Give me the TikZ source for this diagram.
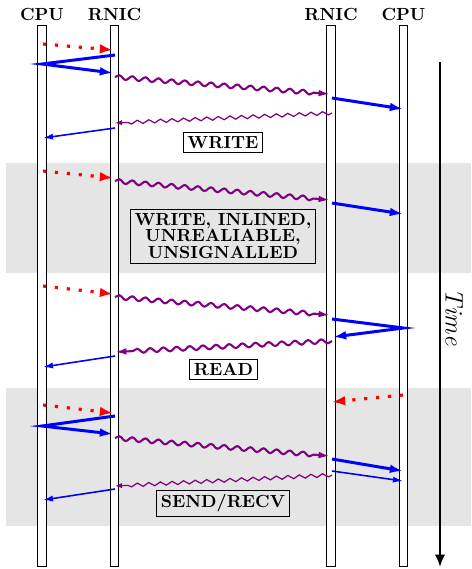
\documentclass[tikz,border=0pt]{standalone}
\usetikzlibrary{arrows.meta,decorations.pathmorphing}
\definecolor{wirepurple}{RGB}{128,0,128}
\begin{document}
\begin{tikzpicture}[x=0.02cm,y=-0.02cm,
  lifeline/.style={draw,fill=white,line width=0.6pt,minimum width=0.17cm,minimum height=10.84cm,inner sep=0pt},
  head/.style={font=\bfseries},
  band/.style={fill=black!10},
  caption/.style={draw,line width=0.5pt,font=\bfseries\fontsize{10}{9.6}\selectfont,inner sep=2.3pt,align=center},
  mmio/.style={red,line width=1.8pt,dash pattern=on 1.8pt off 5pt,-{Latex[length=7.5pt,width=5.5pt]}},
  fetch/.style={blue,line width=1.7pt,-{Latex[length=7.5pt,width=5pt]}},
  dmalight/.style={blue,line width=0.9pt,-{Latex[length=5.7pt,width=3.5pt]}},
  wire/.style={wirepurple,line width=1.2pt,decorate,decoration={snake,amplitude=1.2pt,segment length=7.5pt,post length=8pt},-{Latex[length=6.5pt,width=3.8pt]}},
  wirelight/.style={wirepurple,line width=0.7pt,decorate,decoration={snake,amplitude=1pt,segment length=6.6pt,post length=5pt},-{Latex[length=4pt,width=3pt]}},
  timeline/.style={line width=1.7pt,-{Latex[length=7pt,width=6pt]}}]
\useasboundingbox (0,0) rectangle (471,569);

% shaded bands
\fill[band] (6,163) rectangle (471,273);
\fill[band] (6,388) rectangle (471,526);

% hosts and NICs
\foreach \n/\x/\t in {cpuL/42/CPU, nicL/114.5/RNIC, nicR/331/RNIC, cpuR/403.5/CPU} {
  \node[lifeline] (\n) at (\x,296) {};
  \node[head] (\n head) at (\x,14) {\t};
}

% doorbells
\foreach \i/\xa/\ya/\xb/\yb in {1/43/44/113/50, 2/43/171/113/178, 3/43/286/113/294, 4/43/405/113/413, 5/403/395/332/402} {
  \coordinate (ringA\i) at (\xa,\ya);
  \coordinate (ringB\i) at (\xb,\yb);
  \path[draw,mmio] (ringA\i) -- (ringB\i);
}

% fetches
\foreach \i/\xa/\ya/\xm/\ym/\xb/\yb in {1/115/55/42/64/113/73, 2/332/319/403.5/328/333/337, 3/115/416/42/426/113/434} {
  \coordinate (getA\i) at (\xa,\ya);
  \coordinate (getM\i) at (\xm,\ym);
  \coordinate (getB\i) at (\xb,\yb);
  \path[draw,fetch] (getA\i) -- (getM\i) -- (getB\i);
}

% payload DMA
\foreach \i/\xa/\ya/\xb/\yb in {1/332/98/403/109, 2/332/203/403/214, 3/332/459/403/471} {
  \coordinate (dmaA\i) at (\xa,\ya);
  \coordinate (dmaB\i) at (\xb,\yb);
  \path[draw,fetch] (dmaA\i) -- (dmaB\i);
}

% completions
\foreach \i/\xa/\ya/\xb/\yb in {1/115/128/43/138, 2/115/356/43/367, 3/332/471/403/481, 4/115/489/43/500} {
  \coordinate (cqA\i) at (\xa,\ya);
  \coordinate (cqB\i) at (\xb,\yb);
  \path[draw,dmalight] (cqA\i) -- (cqB\i);
}

% network packets
\foreach \i/\xa/\ya/\xb/\yb in {1/115/77/330/94, 2/115/181/330/200, 3/115/297/330/315, 4/332/341/115/352, 5/115/438/330/456} {
  \coordinate (pktA\i) at (\xa,\ya);
  \coordinate (pktB\i) at (\xb,\yb);
  \path[draw,wire] (pktA\i) -- (pktB\i);
}
\foreach \i/\xa/\ya/\xb/\yb in {1/332/113/115/123, 2/332/475/115/486} {
  \coordinate (ackA\i) at (\xa,\ya);
  \coordinate (ackB\i) at (\xb,\yb);
  \path[draw,wirelight] (ackA\i) -- (ackB\i);
}

% verbs
\node[caption] (write) at (223,142.5) {WRITE};
\node[caption] (inlined) at (223,236) {WRITE, INLINED,\\UNREALIABLE,\\UNSIGNALLED};
\node[caption] (read) at (223.5,369.5) {READ};
\node[caption] (send) at (223,503.5) {SEND/RECV};

% time axis
\coordinate (tstart) at (440,62);
\coordinate (tend) at (440,567);
\path[draw,timeline] (tstart) -- (tend);
\node[rotate=-90,font=\Large\itshape] (time) at (454,317) {Time};
\end{tikzpicture}
\end{document}
